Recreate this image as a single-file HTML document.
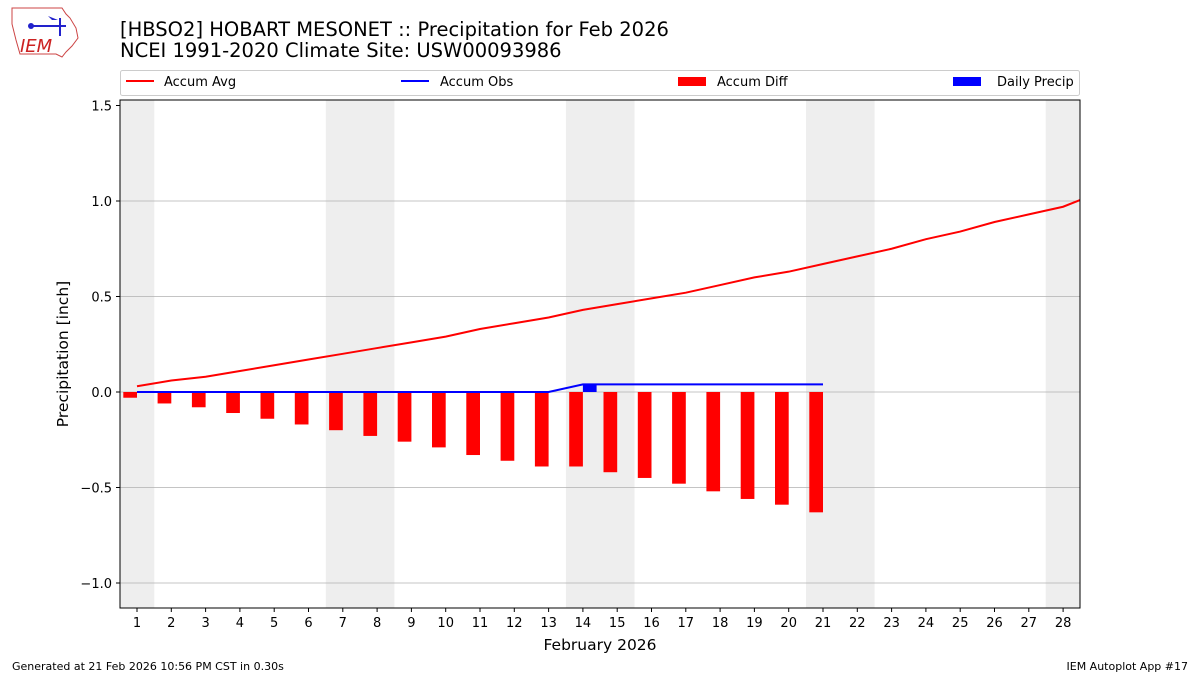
<!DOCTYPE html>
<html><head><meta charset="utf-8"><style>
body{margin:0;background:#fff;}
svg text{font-family:"DejaVu Sans","Liberation Sans",sans-serif;}
</style></head><body>
<svg width="1200" height="675" viewBox="0 0 1200 675" xmlns="http://www.w3.org/2000/svg">
<rect width="1200" height="675" fill="#fff"/>
<path d="M12 8 L62 8 L66 14 L70 18 L76 28 L78 38 L72 46 L66 52 L62 57 L56 54 L20 54 L16 40 L12 24 Z" fill="#fff" stroke="#c44" stroke-width="1"/>
<line x1="30" y1="26" x2="66" y2="26" stroke="#22c" stroke-width="2"/>
<line x1="60" y1="18" x2="60" y2="36" stroke="#22c" stroke-width="2"/>
<circle cx="31" cy="26" r="3" fill="#22c"/>
<path d="M48 16 L58 20 L52 20 Z" fill="#22c"/>
<text x="20" y="52" font-family="Liberation Serif,serif" font-style="italic" font-size="18" fill="#c22">IEM</text>
<text x="120" y="36" font-size="19.5">[HBSO2] HOBART MESONET :: Precipitation for Feb 2026</text>
<text x="120" y="57" font-size="19.5">NCEI 1991-2020 Climate Site: USW00093986</text>
<rect x="120.5" y="70.5" width="959" height="25" fill="#fff" stroke="#ccc" rx="2"/>
<line x1="126" y1="81" x2="154" y2="81" stroke="#f00" stroke-width="2"/>
<text x="164" y="86" font-size="13">Accum Avg</text>
<line x1="401" y1="81" x2="429" y2="81" stroke="#00f" stroke-width="2"/>
<text x="440" y="86" font-size="13">Accum Obs</text>
<rect x="678" y="77" width="28" height="9" fill="#f00"/>
<text x="717" y="86" font-size="13">Accum Diff</text>
<rect x="953" y="77" width="28" height="9" fill="#00f"/>
<text x="997" y="86" font-size="13">Daily Precip</text>
<g fill="#eeeeee">
<rect x="120" y="100" width="34.3" height="508"/>
<rect x="325.8" y="100" width="68.6" height="508"/>
<rect x="565.9" y="100" width="68.6" height="508"/>
<rect x="806" y="100" width="68.6" height="508"/>
<rect x="1045.7" y="100" width="34.3" height="508"/>
</g>
<g stroke="#b0b0b0" stroke-width="0.8">
<line x1="120" y1="201" x2="1080" y2="201"/>
<line x1="120" y1="296.5" x2="1080" y2="296.5"/>
<line x1="120" y1="392" x2="1080" y2="392"/>
<line x1="120" y1="487.5" x2="1080" y2="487.5"/>
<line x1="120" y1="583" x2="1080" y2="583"/>
</g>
<g id="bars"></g>
<g id="lines"></g>
<rect x="120" y="100" width="960" height="508" fill="none" stroke="#000" stroke-width="1"/>
<g id="axes" font-size="13"></g>
<text x="600" y="650" font-size="15.5" text-anchor="middle">February 2026</text>
<text transform="translate(68,354) rotate(-90)" font-size="15.5" text-anchor="middle">Precipitation [inch]</text>
<text x="12" y="670" font-size="11">Generated at 21 Feb 2026 10:56 PM CST in 0.30s</text>
<text x="1188" y="670" font-size="11" text-anchor="end">IEM Autoplot App #17</text>
<script>
var NS="http://www.w3.org/2000/svg";
function X(d){return 119.85+(d-0.5)*34.3;}
function Y(v){return 392-v*191;}
function el(t,a,p,txt){var e=document.createElementNS(NS,t);for(var k in a)e.setAttribute(k,a[k]);if(txt!=null)e.textContent=txt;document.getElementById(p).appendChild(e);}
var avg=[0.03,0.06,0.08,0.11,0.14,0.17,0.20,0.23,0.26,0.29,0.33,0.36,0.39,0.43,0.46,0.49,0.52,0.56,0.60,0.63,0.67,0.71,0.75,0.80,0.84,0.89,0.93,0.97];
var obs=[];for(var i=1;i<=21;i++)obs.push(i<14?0:0.04);
for(var i=0;i<21;i++){var d=obs[i]-avg[i];el("rect",{x:X(i+1)-13.7,y:Y(0),width:13.7,height:-d*191,fill:"#f00"},"bars");}
el("rect",{x:X(14),y:Y(0.04),width:13.7,height:0.04*191,fill:"#00f"},"bars");
var p="";for(var i=0;i<28;i++)p+=(i?"L":"M")+X(i+1)+" "+Y(avg[i]);p+="L1080 "+Y(1.005);
el("path",{d:p,fill:"none",stroke:"#f00","stroke-width":2},"lines");
p="";for(var i=0;i<21;i++)p+=(i?"L":"M")+X(i+1)+" "+Y(obs[i]);
el("path",{d:p,fill:"none",stroke:"#00f","stroke-width":2},"lines");
for(var d=1;d<=28;d++){el("line",{x1:X(d),y1:608,x2:X(d),y2:612,stroke:"#000"},"axes");el("text",{x:X(d),y:627,"text-anchor":"middle"},"axes",""+d);}
[[1.5,"1.5"],[1,"1.0"],[0.5,"0.5"],[0,"0.0"],[-0.5,"\u22120.5"],[-1,"\u22121.0"]].forEach(function(t){var y=Y(t[0]);el("line",{x1:116,y1:y,x2:120,y2:y,stroke:"#000"},"axes");el("text",{x:112,y:y+5,"text-anchor":"end"},"axes",t[1]);});
</script>
</svg>
</body></html>
